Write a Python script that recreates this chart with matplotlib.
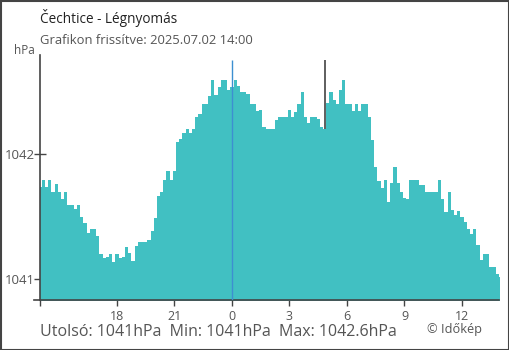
import matplotlib
matplotlib.use('Agg')
import matplotlib.pyplot as plt
import numpy as np
from matplotlib.patches import Rectangle

# pressure readings every 10 minutes, from 14:00 yesterday to 14:00 today
pressure = [
    1041.736, 1041.792, 1041.738, 1041.792, 1041.698, 1041.762, 1041.698, 1041.640,
    1041.694, 1041.594, 1041.594, 1041.560, 1041.592, 1041.498, 1041.450, 1041.366,
    1041.400, 1041.400, 1041.344, 1041.202, 1041.166, 1041.174, 1041.200, 1041.134,
    1041.200, 1041.166, 1041.174, 1041.258, 1041.206, 1041.146, 1041.264, 1041.296,
    1041.296, 1041.296, 1041.312, 1041.384, 1041.486, 1041.664, 1041.696, 1041.792,
    1041.864, 1041.792, 1041.864, 1042.096, 1042.120, 1042.166, 1042.200, 1042.166,
    1042.200, 1042.296, 1042.322, 1042.402, 1042.402, 1042.466, 1042.592, 1042.472,
    1042.538, 1042.592, 1042.592, 1042.512, 1042.538, 1042.590, 1042.544, 1042.496,
    1042.496, 1042.480, 1042.400, 1042.400, 1042.344, 1042.352, 1042.214, 1042.200,
    1042.200, 1042.200, 1042.272, 1042.296, 1042.296, 1042.298, 1042.352, 1042.296,
    1042.334, 1042.400, 1042.498, 1042.298, 1042.246, 1042.296, 1042.296, 1042.280,
    1042.218, 1042.200, 1042.406, 1042.494, 1042.430, 1042.400, 1042.512, 1042.592,
    1042.400, 1042.400, 1042.344, 1042.400, 1042.344, 1042.400, 1042.400, 1042.298,
    1042.112, 1041.898, 1041.784, 1041.730, 1041.792, 1041.618, 1041.770, 1041.894,
    1041.770, 1041.696, 1041.650, 1041.640, 1041.792, 1041.792, 1041.792, 1041.752,
    1041.752, 1041.696, 1041.696, 1041.696, 1041.696, 1041.792, 1041.638, 1041.538,
    1041.696, 1041.552, 1041.512, 1041.546, 1041.498, 1041.458, 1041.400, 1041.360,
    1041.400, 1041.272, 1041.152, 1041.200, 1041.200, 1041.098, 1041.098, 1041.038,
    1041.014,
]
tick_hours = [0, 4, 7, 10, 13, 16, 19, 22]   # hours after 14:00
tick_labels = ['', '18', '21', '0', '3', '6', '9', '12']
midnight = 10
marker_time = 14.87
marker_top = 1042.752

title = 'Čechtice - Légnyomás'
subtitle = 'Grafikon frissítve: 2025.07.02 14:00'
summary = 'Utolsó: 1041hPa  Min: 1041hPa  Max: 1042.6hPa'

plt.rcParams['font.family'] = ['Open Sans', 'DejaVu Sans']

hours = np.arange(len(pressure)) / 6.0
vals = np.array(pressure)

fig = plt.figure(figsize=(5.1, 3.5), dpi=100)
ax = fig.add_axes([40.3 / 510, 50 / 350, 458.7 / 510, 245 / 350])

ax.fill_between(hours, 1040.0, vals, step='mid', color='#41c0c2', lw=0, zorder=1)
ax.set_xlim(0, 23.93)
ax.set_ylim(1040.832, 1042.792)
ax.set_axisbelow(True)

ax.vlines(midnight, 1040.832, marker_top, color='#3d8fd1', lw=1.0, zorder=3)
i_mark = int(round(marker_time * 6))
ax.vlines(marker_time, vals[i_mark], marker_top, color='#333333', lw=1.1, zorder=3)

for s in ['top', 'right']:
    ax.spines[s].set_visible(False)
for s in ['left', 'bottom']:
    ax.spines[s].set_color('#444444')
    ax.spines[s].set_linewidth(1.2)
ax.plot([-0.013, 0], [0, 0], transform=ax.transAxes, color='#444444', lw=1.2, clip_on=False)

ax.set_yticks([1041, 1042])
ax.set_yticklabels(['1041', '1042'])
ax.tick_params(axis='y', direction='inout', length=8.4, width=1, color='#444444',
               labelsize=9.5, labelcolor='#555555', pad=0)
ax.set_xticks(tick_hours)
ax.set_xticklabels(tick_labels)
ax.tick_params(axis='x', direction='out', length=4, width=1, color='#444444',
               labelsize=9, labelcolor='#555555', pad=3)
ax.xaxis.get_major_ticks()[tick_hours.index(midnight)].tick1line.set_color('#3d8fd1')

fig.text(40 / 510, 1 - 18 / 350, title, fontsize=9.8, color='#222222', va='center')
fig.text(40 / 510, 1 - 40 / 350, subtitle, fontsize=9.4, color='#555555', va='center')
fig.text(35 / 510, 1 - 50 / 350, 'hPa', fontsize=8.5, color='#555555', va='center', ha='right')
fig.text(40 / 510, 1 - 332 / 350, summary, fontsize=11.5, color='#555555', va='center')
fig.text(482 / 510, 1 - 329 / 350, '© Időkép', fontsize=9.2, color='#555555', va='center', ha='right')

fig.add_artist(Rectangle((0.5 / 510, 0.5 / 350), 508.5 / 510, 348.5 / 350,
                         transform=fig.transFigure, fill=False, edgecolor='#444444', lw=1.5))

fig.savefig('out.png', dpi=100)
